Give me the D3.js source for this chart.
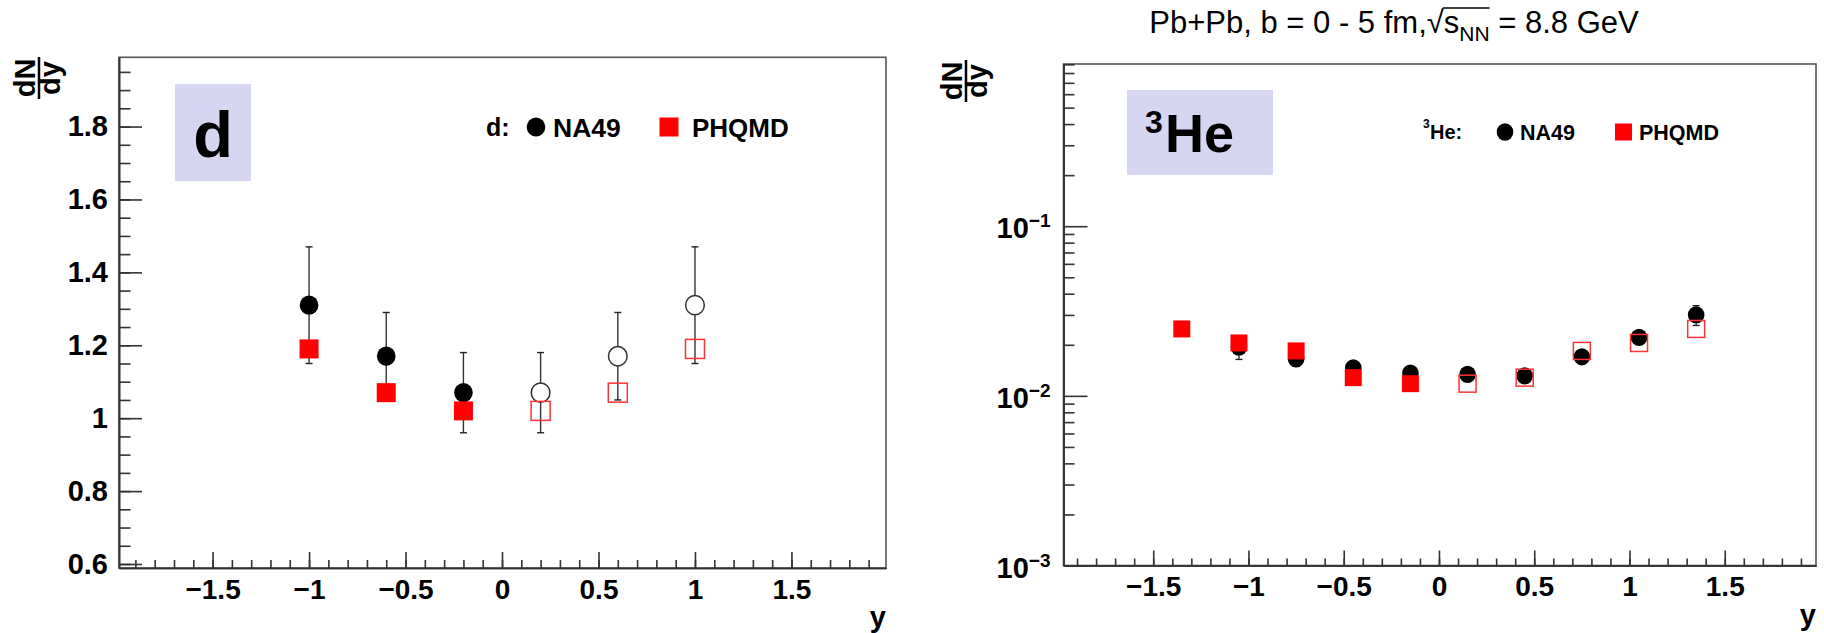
<!DOCTYPE html>
<html>
<head>
<meta charset="UTF-8">
<script src="https://cdn.jsdelivr.net/npm/d3@7"></script>
<style>
  body { margin: 0; background: #fff; }
  svg text { font-family: "Liberation Sans", Arial, Helvetica, sans-serif; }
  .axis path, .axis line { stroke: #333; stroke-width: 1.6; }
  .axis text { font-weight: bold; fill: #000; }
</style>
</head>
<body>
<svg width="1824" height="633"></svg>
<script>
// ---- deuteron panel data ----
var dRap = [-1.0, -0.6, -0.2, 0.2, 0.6, 1.0];
var dNA49 = [1.31, 1.17, 1.07, 1.07, 1.17, 1.31];
var dNA49Err = [0.16, 0.12, 0.11, 0.11, 0.12, 0.16];
var dPHQMD = [1.19, 1.07, 1.02, 1.02, 1.07, 1.19];
var dYTicks = [0.6, 0.8, 1.0, 1.2, 1.4, 1.6, 1.8];

// ---- 3He panel data ----
var heRap = [-1.35, -1.05, -0.75, -0.45, -0.15, 0.15, 0.45, 0.75, 1.05, 1.35];
var hePHQMD = [0.0248, 0.0205, 0.0184, 0.0128, 0.0118, 0.0118, 0.0128, 0.0184, 0.0205, 0.0248];
var heNA49Rap = [-1.05, -0.75, -0.45, -0.15, 0.15, 0.45, 0.75, 1.05, 1.35];
var heNA49 = [0.0194, 0.0165, 0.0146, 0.0136, 0.0134, 0.0131, 0.0170, 0.0221, 0.0300];
var heNA49Err = [0.0030, 0.0015, 0.0010, 0.0008, 0.0008, 0.0008, 0.0010, 0.0015, 0.0040];
var heYTicks = [0.001, 0.01, 0.1];

var xTicks = [-1.5, -1, -0.5, 0, 0.5, 1, 1.5];
var xMinor = d3.range(-19, 20).map(function(i) { return i / 10; });

var svg = d3.select("svg");

// ---------- helpers ----------
function frame(g, x, y) {
    g.append("rect")
        .attr("x", x.range()[0]).attr("y", y.range()[1])
        .attr("width", x.range()[1] - x.range()[0])
        .attr("height", y.range()[0] - y.range()[1])
        .attr("fill", "none").attr("stroke", "#555").attr("stroke-width", 1.6);
}

function xAxis(g, x, y, majLen, minLen) {
    var y0 = y.range()[0];
    g.append("g").attr("class", "axis")
        .attr("transform", "translate(0," + y0 + ")")
        .call(d3.axisBottom(x).tickValues(xMinor).tickSize(-minLen).tickSizeOuter(0).tickFormat(""));
    var ax = g.append("g").attr("class", "axis")
        .attr("transform", "translate(0," + y0 + ")")
        .call(d3.axisBottom(x).tickValues(xTicks).tickSize(-majLen).tickSizeOuter(0)
            .tickPadding(11).tickFormat(d3.format("~g")));
    ax.selectAll("text").style("font-size", "28px");
    g.append("text")
        .attr("x", x.range()[1]).attr("y", y0 + 59)
        .attr("text-anchor", "end")
        .style("font-size", "29px").style("font-weight", "bold")
        .text("y");
}

function yTitle(g, cx, cy) {
    var t = g.append("g").attr("transform", "translate(" + cx + "," + cy + ") rotate(-90)");
    t.append("text").attr("x", 0).attr("y", -4).attr("text-anchor", "middle")
        .style("font-size", "29px").style("font-weight", "bold").text("dN");
    t.append("line").attr("x1", -21).attr("x2", 21).attr("y1", 0).attr("y2", 0)
        .attr("stroke", "#000").attr("stroke-width", 2.5);
    t.append("text").attr("x", 0).attr("y", 21).attr("text-anchor", "middle")
        .style("font-size", "29px").style("font-weight", "bold").text("dy");
}

function errBars(g, x, y, xs, vals, errs, r) {
    xs.forEach(function(xv, i) {
        var cx = x(xv), cy = y(vals[i]);
        var top = y(vals[i] + errs[i]), bot = y(vals[i] - errs[i]);
        var seg = [[top, cy - r], [cy + r, bot]];
        seg.forEach(function(s) {
            if (s[1] > s[0]) {
                g.append("line").attr("x1", cx).attr("x2", cx).attr("y1", s[0]).attr("y2", s[1])
                    .attr("stroke", "#333").attr("stroke-width", 1.4);
            }
        });
        [top, bot].forEach(function(yy) {
            g.append("line").attr("x1", cx - 3.5).attr("x2", cx + 3.5).attr("y1", yy).attr("y2", yy)
                .attr("stroke", "#222").attr("stroke-width", 1.4);
        });
    });
}

function circles(g, x, y, xs, vals, r, openRight) {
    g.selectAll(null).data(xs).enter().append("ellipse")
        .attr("cx", function(d) { return x(d); })
        .attr("cy", function(d, i) { return y(vals[i]); })
        .attr("rx", r).attr("ry", r * 1.04)
        .attr("fill", function(d) { return (openRight && d > 0) ? "none" : "#000"; })
        .attr("stroke", function(d) { return (openRight && d > 0) ? "#333" : "none"; })
        .attr("stroke-width", 1.5);
}

function squares(g, x, y, xs, vals, s) {
    g.selectAll(null).data(xs).enter().append("rect")
        .attr("x", function(d) { return x(d) - s / 2; })
        .attr("y", function(d, i) { return y(vals[i]) - s / 2; })
        .attr("width", s).attr("height", s)
        .attr("fill", function(d) { return d > 0 ? "none" : "#ff0000"; })
        .attr("stroke", function(d) { return d > 0 ? "#f33" : "none"; })
        .attr("stroke-width", 1.5);
}

// ---------- left panel: d ----------
var gL = svg.append("g");
var xL = d3.scaleLinear().domain([-1.985, 1.99]).range([119, 886]);
var yL = d3.scaleLinear().domain([0.589, 1.99]).range([568, 57.3]);

frame(gL, xL, yL);
xAxis(gL, xL, yL, 16, 8);
gL.append("g").attr("class", "axis")
    .attr("transform", "translate(" + xL.range()[0] + ",0)")
    .call(d3.axisLeft(yL).tickValues(d3.range(12, 40).map(function(i) { return i * 0.05; }))
        .tickSize(-11.5).tickSizeOuter(0).tickFormat(""));
var yAxL = gL.append("g").attr("class", "axis")
    .attr("transform", "translate(" + xL.range()[0] + ",0)")
    .call(d3.axisLeft(yL).tickValues(dYTicks).tickSize(-23).tickSizeOuter(0)
        .tickPadding(11).tickFormat(d3.format("~g")));
yAxL.selectAll("text").style("font-size", "29px");
yTitle(gL, 39, 78);

// label box
gL.append("rect").attr("x", 175).attr("y", 84).attr("width", 76).attr("height", 97).attr("fill", "#d6d6f3");
gL.append("text").attr("x", 213).attr("y", 157).attr("text-anchor", "middle")
    .style("font-size", "65px").style("font-weight", "bold").text("d");

// legend
gL.append("text").attr("x", 486).attr("y", 136).style("font-size", "25px").style("font-weight", "bold").text("d:");
gL.append("ellipse").attr("cx", 536).attr("cy", 127).attr("rx", 9.3).attr("ry", 9.6).attr("fill", "#000");
gL.append("text").attr("x", 553).attr("y", 136.5).style("font-size", "26.5px").style("font-weight", "bold").text("NA49");
gL.append("rect").attr("x", 659.5).attr("y", 117.5).attr("width", 19).attr("height", 19).attr("fill", "#ff0000");
gL.append("text").attr("x", 692).attr("y", 136.5).style("font-size", "26px").style("font-weight", "bold").text("PHQMD");

errBars(gL, xL, yL, dRap, dNA49, dNA49Err, 9.3);
circles(gL, xL, yL, dRap, dNA49, 9.3, true);
squares(gL, xL, yL, dRap, dPHQMD, 19);

// ---------- right panel: 3He ----------
var gR = svg.append("g");
var xR = d3.scaleLinear().domain([-1.971, 1.979]).range([1063.5, 1816]);
var yR = d3.scaleLog().domain([0.001, 0.904]).range([565.5, 64]);

frame(gR, xR, yR);
xAxis(gR, xR, yR, 15, 7);
var logMinor = [];
[-3, -2, -1].forEach(function(e) {
    d3.range(2, 10).forEach(function(k) {
        var v = k * Math.pow(10, e);
        if (v < 0.904) logMinor.push(v);
    });
});
gR.append("g").attr("class", "axis")
    .attr("transform", "translate(" + xR.range()[0] + ",0)")
    .call(d3.axisLeft(yR).tickValues(logMinor).tickSize(-11).tickSizeOuter(0).tickFormat(""));
var yAxR = gR.append("g").attr("class", "axis")
    .attr("transform", "translate(" + xR.range()[0] + ",0)")
    .call(d3.axisLeft(yR).tickValues(heYTicks).tickSize(-24).tickSizeOuter(0).tickPadding(13).tickFormat(""));
yAxR.selectAll(".tick text").each(function(d) {
    var t = d3.select(this).style("font-size", "29px").attr("dy", "0.4em");
    t.append("tspan").text("10");
    t.append("tspan").attr("dy", -11).style("font-size", "19px")
        .text("\u2212" + Math.round(-Math.log10(d)));
});
yTitle(gR, 966, 81);

// title
var title = svg.append("text").attr("x", 1394).attr("y", 33).attr("text-anchor", "middle")
    .style("font-size", "31px");
title.append("tspan").text("Pb+Pb, b = 0 - 5 fm,");
var sq = title.append("tspan").text("\u221A");
var sTs = title.append("tspan").text("s");
var nn = title.append("tspan").attr("dy", 8).style("font-size", "21px").text("NN");
title.append("tspan").attr("dy", -8).text(" = 8.8 GeV");
var b1 = sq.node().getBBox(), b2 = nn.node().getBBox();
svg.append("line").attr("x1", b1.x + b1.width - 1).attr("x2", b2.x + b2.width)
    .attr("y1", b1.y + 3).attr("y2", b1.y + 3).attr("stroke", "#000").attr("stroke-width", 1.3);

// label box
gR.append("rect").attr("x", 1127).attr("y", 90).attr("width", 146).attr("height", 85).attr("fill", "#d6d6f3");
gR.append("text").attr("x", 1145).attr("y", 133).style("font-size", "32px").style("font-weight", "bold").text("3");
gR.append("text").attr("x", 1165).attr("y", 152).style("font-size", "54px").style("font-weight", "bold").text("He");

// legend
gR.append("text").attr("x", 1423).attr("y", 128).style("font-size", "12px").style("font-weight", "bold").text("3");
gR.append("text").attr("x", 1430).attr("y", 139).style("font-size", "20px").style("font-weight", "bold").text("He:");
gR.append("ellipse").attr("cx", 1505).attr("cy", 132).attr("rx", 8.3).attr("ry", 8.8).attr("fill", "#000");
gR.append("text").attr("x", 1520).attr("y", 140).style("font-size", "21.5px").style("font-weight", "bold").text("NA49");
gR.append("rect").attr("x", 1615).attr("y", 123.5).attr("width", 17).attr("height", 17).attr("fill", "#ff0000");
gR.append("text").attr("x", 1639).attr("y", 140).style("font-size", "21.5px").style("font-weight", "bold").text("PHQMD");

errBars(gR, xR, yR, heNA49Rap, heNA49, heNA49Err, 8.3);
circles(gR, xR, yR, heNA49Rap, heNA49, 8.3, false);
squares(gR, xR, yR, heRap, hePHQMD, 17);
</script>
</body>
</html>
